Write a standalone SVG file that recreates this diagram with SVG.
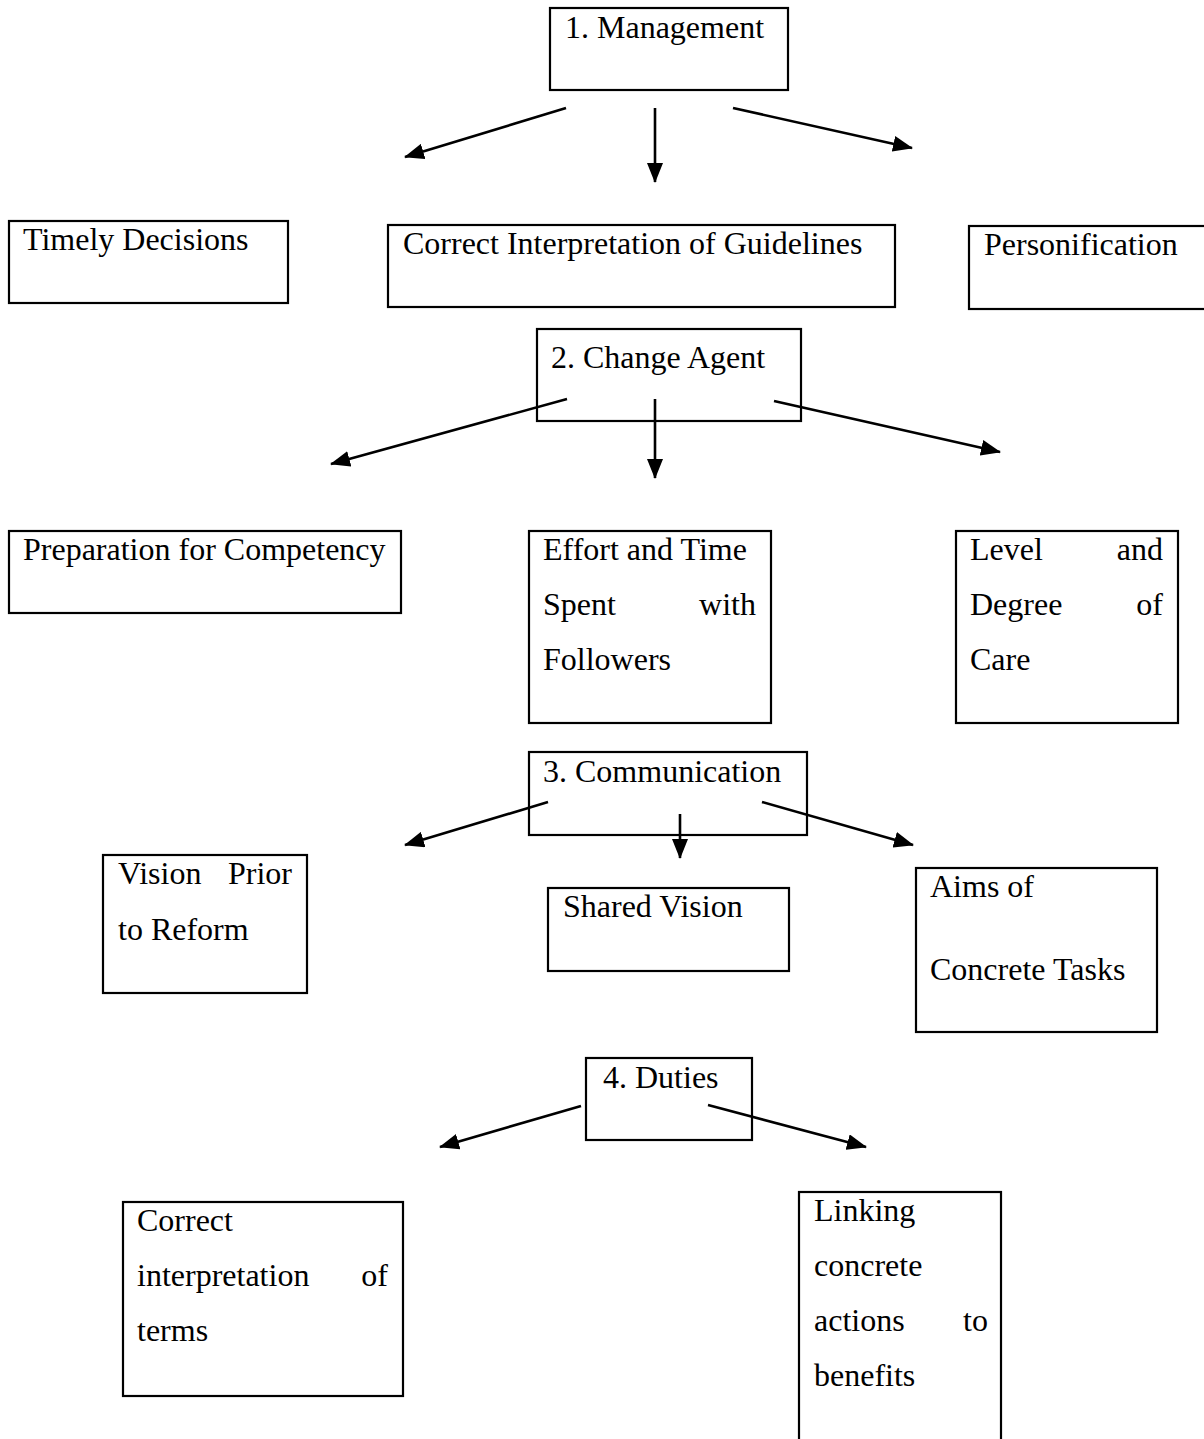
<svg xmlns="http://www.w3.org/2000/svg" width="1204" height="1439" viewBox="0 0 1204 1439">
<style>
rect{fill:none;stroke:#000;stroke-width:2.2}
text{font-family:"Liberation Serif","Times New Roman",serif;font-size:32px;fill:#000}
.e{text-anchor:end}
#connectors line{stroke:#000;stroke-width:2.6}
</style>
<defs>
<marker id="ah" markerUnits="userSpaceOnUse" markerWidth="20" markerHeight="16" refX="19" refY="8" orient="auto">
<path d="M0,0 L20,8 L0,16 Z" fill="#000"/>
</marker>
</defs>
<rect x="0" y="0" width="1204" height="1439" style="fill:#fff;stroke:none"/>
<g id="management"><rect x="550" y="8" width="238" height="82"/><text x="565" y="38">1. Management</text></g>
<g id="timely"><rect x="9" y="221" width="279" height="82"/><text x="23" y="250">Timely Decisions</text></g>
<g id="guidelines"><rect x="388" y="225" width="507" height="82"/><text x="403" y="254">Correct Interpretation of Guidelines</text></g>
<g id="personification"><rect x="969" y="226" width="250" height="83"/><text x="984" y="255">Personification</text></g>
<g id="changeagent"><rect x="537" y="329" width="264" height="92"/><text x="551" y="368">2. Change Agent</text></g>
<g id="preparation"><rect x="9" y="531" width="392" height="82"/><text x="23" y="560">Preparation for Competency</text></g>
<g id="effort"><rect x="529" y="531" width="242" height="192"/><text x="543" y="560">Effort and Time</text><text x="543" y="615">Spent</text><text class="e" x="756" y="615">with</text><text x="543" y="670">Followers</text></g>
<g id="level"><rect x="956" y="531" width="222" height="192"/><text x="970" y="560">Level</text><text class="e" x="1163" y="560">and</text><text x="970" y="615">Degree</text><text class="e" x="1163" y="615">of</text><text x="970" y="670">Care</text></g>
<g id="communication"><rect x="529" y="752" width="278" height="83"/><text x="543" y="782">3. Communication</text></g>
<g id="visionprior"><rect x="103" y="855" width="204" height="138"/><text x="118" y="884">Vision</text><text class="e" x="292" y="884">Prior</text><text x="118" y="940">to Reform</text></g>
<g id="sharedvision"><rect x="548" y="888" width="241" height="83"/><text x="563" y="917">Shared Vision</text></g>
<g id="aims"><rect x="916" y="868" width="241" height="164"/><text x="930" y="897">Aims of</text><text x="930" y="980">Concrete Tasks</text></g>
<g id="duties"><rect x="586" y="1058" width="166" height="82"/><text x="603" y="1088">4. Duties</text></g>
<g id="terms"><rect x="123" y="1202" width="280" height="194"/><text x="137" y="1231">Correct</text><text x="137" y="1286">interpretation</text><text class="e" x="388" y="1286">of</text><text x="137" y="1341">terms</text></g>
<g id="linking"><rect x="799" y="1192" width="202" height="260"/><text x="814" y="1221">Linking</text><text x="814" y="1276">concrete</text><text x="814" y="1331">actions</text><text class="e" x="988" y="1331">to</text><text x="814" y="1386">benefits</text></g>
<g id="connectors">
<line x1="566" y1="108" x2="405" y2="157" marker-end="url(#ah)"/>
<line x1="655" y1="108" x2="655" y2="182" marker-end="url(#ah)"/>
<line x1="733" y1="108" x2="912" y2="148" marker-end="url(#ah)"/>
<line x1="567" y1="399" x2="331" y2="464" marker-end="url(#ah)"/>
<line x1="655" y1="399" x2="655" y2="478" marker-end="url(#ah)"/>
<line x1="774" y1="401" x2="1000" y2="452" marker-end="url(#ah)"/>
<line x1="548" y1="802" x2="405" y2="845" marker-end="url(#ah)"/>
<line x1="680" y1="814" x2="680" y2="858" marker-end="url(#ah)"/>
<line x1="762" y1="802" x2="913" y2="845" marker-end="url(#ah)"/>
<line x1="581" y1="1106" x2="440" y2="1147" marker-end="url(#ah)"/>
<line x1="708" y1="1105" x2="866" y2="1147" marker-end="url(#ah)"/>
</g>
</svg>
